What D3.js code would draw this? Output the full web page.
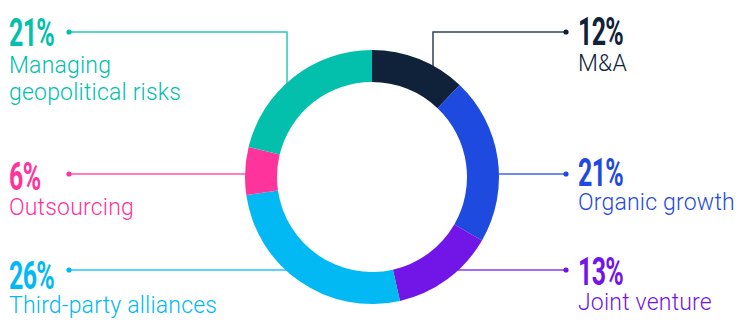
<!DOCTYPE html>
<html lang="en">
<head>
    <meta charset="UTF-8">
    <title>Growth strategies donut</title>
    <script src="https://d3js.org/d3.v7.min.js"></script>
    <style>
        html, body { margin: 0; padding: 0; background: #fff; }
        .pct { font-family: Roboto, "Noto Sans", sans-serif; font-weight: 700; }
        .lbl { font-family: Roboto, "Noto Sans", sans-serif; font-weight: 300; }
    </style>
</head>
<body>
    <svg id="chart" width="742" height="324"></svg>
    <script>
        // Data (clockwise from 12 o'clock)
        const categories = ['M&A', 'Organic growth', 'Joint venture', 'Third-party alliances', 'Outsourcing', 'Managing geopolitical risks'];
        const values = [12, 21, 13, 26, 6, 21];
        const colors = ['#0f2239', '#1f4ae0', '#7216e8', '#02b9f4', '#fe349c', '#02c0ac'];
        // label lines, split where the original wraps
        const labelLines = [['M&A'], ['Organic growth'], ['Joint venture'], ['Third-party alliances'], ['Outsourcing'], ['Managing', 'geopolitical risks']];

        const width = 742, height = 324;
        const cx = 372, cy = 177;
        const outerR = 127, innerR = 95;

        // where each callout sits: side, line y, elbow x (null = straight line), text baselines
        const callouts = [
            { side: 'right', lineY: 32, elbowX: 433, pctY: 45, lblY: 71 },
            { side: 'right', lineY: 174, elbowX: null, pctY: 186, lblY: 210 },
            { side: 'right', lineY: 270, elbowX: null, pctY: 285, lblY: 310 },
            { side: 'left', lineY: 270, elbowX: null, pctY: 289, lblY: 313 },
            { side: 'left', lineY: 174, elbowX: null, pctY: 190, lblY: 215 },
            { side: 'left', lineY: 32, elbowX: 287, pctY: 46, lblY: 73 }
        ];

        const svg = d3.select('#chart');
        const g = svg.append('g');

        const pie = d3.pie().sort(null).value(d => d)(values);
        const arc = d3.arc().innerRadius(innerR).outerRadius(outerR);

        // connector lines (drawn first, the ring covers their ends)
        const endR = (outerR + innerR) / 2;
        callouts.forEach((c, i) => {
            const dotX = c.side === 'left' ? 69 : 566;
            let pts;
            if (c.elbowX !== null) {
                const dx = c.elbowX - cx;
                const yEnd = cy - Math.sqrt(endR * endR - dx * dx);
                pts = [[dotX, c.lineY], [c.elbowX, c.lineY], [c.elbowX, yEnd]];
            } else {
                const dy = c.lineY - cy;
                const dx = Math.sqrt(endR * endR - dy * dy);
                pts = [[dotX, c.lineY], [c.side === 'left' ? cx - dx : cx + dx, c.lineY]];
            }
            g.append('path')
                .attr('d', d3.line()(pts))
                .attr('fill', 'none')
                .attr('stroke', colors[i])
                .attr('stroke-width', 1.5)
                .attr('opacity', 0.85);
            g.append('circle')
                .attr('cx', dotX).attr('cy', c.lineY).attr('r', 2.6)
                .attr('fill', colors[i]);
        });

        // donut
        g.append('g')
            .attr('transform', `translate(${cx},${cy})`)
            .selectAll('path')
            .data(pie)
            .enter()
            .append('path')
            .attr('d', arc)
            .attr('fill', (d, i) => colors[i]);

        // text
        callouts.forEach((c, i) => {
            const x = c.side === 'left' ? 9 : 578;
            g.append('text')
                .attr('class', 'pct')
                .attr('transform', `translate(${x},${c.pctY}) scale(0.64,1)`)
                .attr('font-size', 39)
                .attr('letter-spacing', -1)
                .attr('fill', colors[i])
                .text(values[i] + '%');
            labelLines[i].forEach((line, k) => {
                g.append('text')
                    .attr('class', 'lbl')
                    .attr('x', x)
                    .attr('y', c.lblY + k * 27)
                    .attr('font-size', 23)
                    .attr('letter-spacing', 0.2)
                    .attr('fill', colors[i])
                    .text(line);
            });
        });
    </script>
</body>
</html>
